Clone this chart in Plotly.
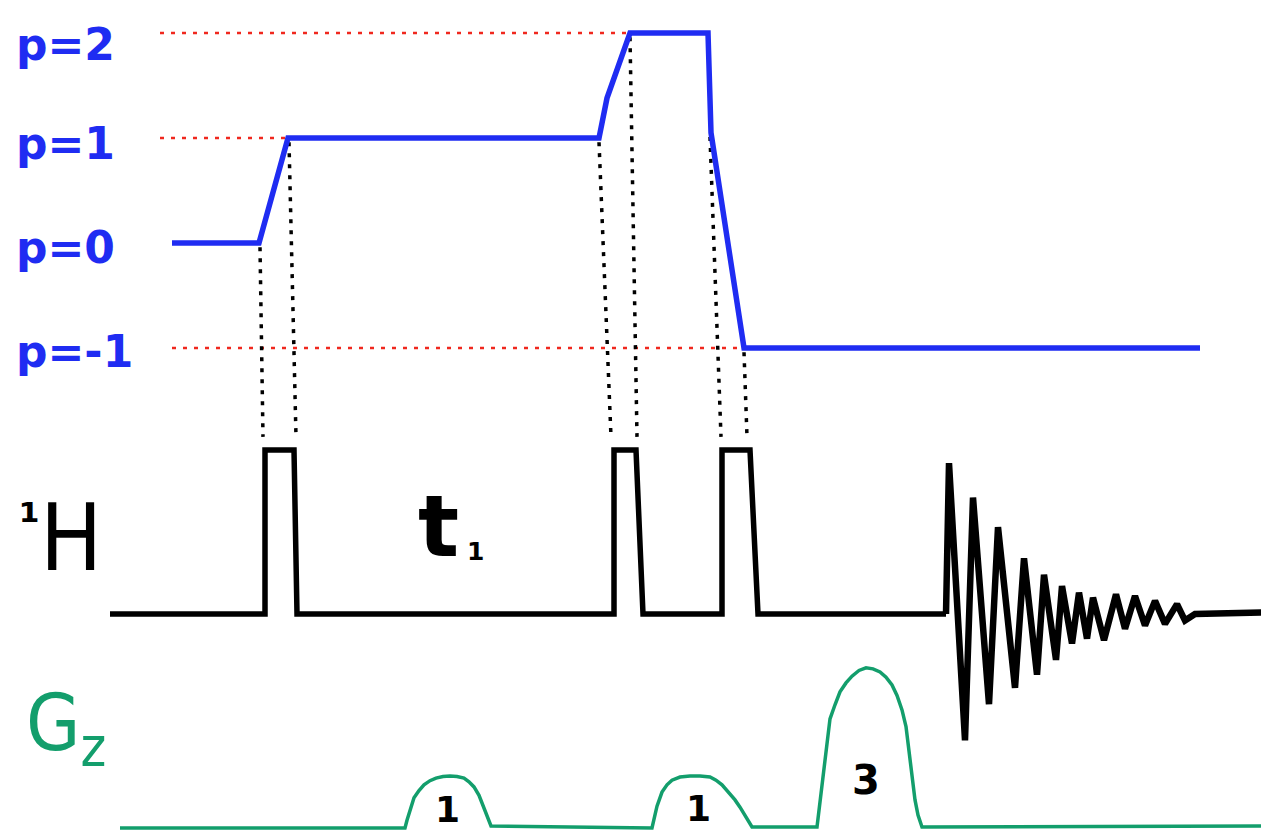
import plotly.graph_objects as go

# ---------------- data ----------------
# coherence transfer pathway (time, coherence order p)
coh_time = [172, 259, 288, 599, 607, 630, 708, 711, 744, 1200]
coh_p = [0, 0, 1, 1, 1.38, 2, 2, 1.05, -1, -1]

# coherence-level labels and red reference (dotted) levels
level_labels = ["p=2", "p=1", "p=0", "p=-1"]
level_values = [2, 1, 0, -1]
ref_levels = [2, 1, -1]
ref_start = [160, 160, 172]
ref_end = [628, 285, 742]

# dotted connectors: coherence change point -> pulse edge
conn_top_time = [260, 289, 599, 630, 710, 744]
conn_top_p = [0, 1, 1, 2, 1.05, -1]
conn_bot_time = [263, 296, 611, 637, 721, 747]

# 1H channel: three pulses (relative amplitude)
pulse_time = [110, 265, 265, 294, 297, 614, 614, 636, 643, 722, 722, 750, 758, 946]
pulse_amp = [0, 0, 1, 1, 0, 0, 1, 1, 0, 0, 1, 1, 0, 0]

# FID (relative amplitude)
fid_time = [946, 949, 965, 973, 989, 998, 1015, 1024, 1037, 1044, 1056, 1062, 1072,
            1079, 1087, 1093, 1104, 1116, 1125, 1135, 1145, 1155, 1165, 1177,
            1185, 1195, 1269]
fid_amp = [0, 0.92, -0.77, 0.71, -0.55, 0.53, -0.45, 0.34, -0.37, 0.24, -0.28, 0.17, -0.18,
           0.13, -0.15, 0.10, -0.16, 0.12, -0.09, 0.11, -0.07, 0.08, -0.06, 0.06,
           -0.04, 0, 0.01]

# Gz gradient channel (relative amplitude 1 : 1 : 3)
g_time = [120, 405, 407, 410, 414, 419, 424, 430, 436, 443, 450, 457, 464, 469, 474,
          479, 483, 487, 491,
          652, 654, 657, 662, 667, 672, 680, 690, 700, 710, 716, 722, 728, 735, 740,
          745, 749, 752,
          817, 819, 821, 824, 827, 830, 835, 840, 846, 852, 859, 866, 873, 880, 886,
          892, 897, 902, 906, 909, 912, 915, 918, 922, 1269]
g_amp = [0, 0, 0.15, 0.36, 0.58, 0.72, 0.83, 0.91, 0.96, 0.99, 1.0, 0.99, 0.96, 0.89, 0.79,
         0.63, 0.44, 0.24, 0.04,
         0, 0.2, 0.42, 0.69, 0.83, 0.92, 0.98, 1.0, 1.0, 0.98, 0.92, 0.83, 0.7, 0.54, 0.4,
         0.23, 0.1, 0.02,
         0.02, 0.35, 0.73, 1.2, 1.69, 2.1, 2.37, 2.62, 2.79, 2.92, 3.03, 3.08, 3.06, 3.0,
         2.9, 2.75, 2.55, 2.27, 1.95, 1.5, 1.1, 0.54, 0.25, 0.02, 0.04]

grad_labels = ["1", "1", "3"]
grad_label_time = [447, 698, 866]
grad_label_amp = [0.36, 0.38, 0.93]

# ---------------- layout constants (styles / positions) ----------------
W, H = 1269, 836
PAGE_OFF = 8            # default body margin of the html page
COH_ZERO_PX, COH_UNIT_PX = 243, 105
RF_ZERO_PX, RF_UNIT_PX = 614, 164
G_ZERO_PX, G_UNIT_PX = 828, 52
LABEL_SHIFT = [-0.11, -0.05, -0.04, -0.03]

BLUE = "#1f2cf2"
GREEN = "#139e6c"
RED = "#f0281e"
BLACK = "#000000"


def axis_range(zero_px, unit_px):
    return [-(H - zero_px) / unit_px, (zero_px - PAGE_OFF) / unit_px]


def rf_to_p(v):
    pix = RF_ZERO_PX - v * RF_UNIT_PX
    return (COH_ZERO_PX - pix) / COH_UNIT_PX


fig = go.Figure()

# red dotted reference levels
for lvl, x0, x1 in zip(ref_levels, ref_start, ref_end):
    fig.add_trace(go.Scatter(x=[x0, x1], y=[lvl, lvl], mode="lines", yaxis="y2",
                             line=dict(color=RED, width=2.5, dash="4px,7px"),
                             hoverinfo="skip"))

# black dotted connectors
for xt, pt, xb in zip(conn_top_time, conn_top_p, conn_bot_time):
    fig.add_trace(go.Scatter(x=[xt, xb], y=[pt - 0.04, rf_to_p(1.08)], mode="lines",
                             yaxis="y2",
                             line=dict(color=BLACK, width=3.5, dash="4px,7px"),
                             hoverinfo="skip"))

# coherence pathway
fig.add_trace(go.Scatter(x=coh_time, y=coh_p, mode="lines", yaxis="y2",
                         line=dict(color=BLUE, width=5.5)))

# RF channel
fig.add_trace(go.Scatter(x=pulse_time, y=pulse_amp, mode="lines", yaxis="y",
                         line=dict(color=BLACK, width=5.5)))
fig.add_trace(go.Scatter(x=fid_time, y=fid_amp, mode="lines", yaxis="y",
                         line=dict(color=BLACK, width=6.5)))

# gradient channel
fig.add_trace(go.Scatter(x=g_time, y=g_amp, mode="lines", yaxis="y3",
                         line=dict(color=GREEN, width=3.5)))

annotations = []
for lab, val, sh in zip(level_labels, level_values, LABEL_SHIFT):
    annotations.append(dict(x=14, y=val + sh, xref="x", yref="y2", text=lab,
                            showarrow=False, xanchor="left", yanchor="middle",
                            font=dict(family="DejaVu Sans", size=44, color=BLUE,
                                      weight="bold")))

for lab, xt, a in zip(grad_labels, grad_label_time, grad_label_amp):
    annotations.append(dict(x=xt, y=a, xref="x", yref="y3", text=lab, showarrow=False,
                            xanchor="center", yanchor="middle",
                            font=dict(family="DejaVu Sans", size=40 if lab == "3" else 36,
                                      color=BLACK, weight="bold")))

# 1H label (superscript mass number + H)
annotations.append(dict(x=29, y=0.57, xref="x", yref="y", text="¹", showarrow=False,
                        xanchor="center", yanchor="middle",
                        font=dict(family="DejaVu Sans", size=48, color=BLACK,
                                  weight="bold")))
annotations.append(dict(x=38, y=0.46, xref="x", yref="y", text="H", showarrow=False,
                        xanchor="left", yanchor="middle",
                        font=dict(family="Liberation Sans Narrow, DejaVu Sans Condensed, sans-serif",
                                  size=92, color=BLACK)))
# t1 label
annotations.append(dict(x=416, y=0.535, xref="x", yref="y", text="t", showarrow=False,
                        xanchor="left", yanchor="middle",
                        font=dict(family="DejaVu Sans", size=86, color=BLACK,
                                  weight="bold")))
annotations.append(dict(x=475, y=0.38, xref="x", yref="y", text="1", showarrow=False,
                        xanchor="center", yanchor="middle",
                        font=dict(family="DejaVu Sans", size=25, color=BLACK,
                                  weight="bold")))
# Gz label
annotations.append(dict(x=24, y=1.91, xref="x", yref="y3", text="G<sub>z</sub>",
                        showarrow=False, xanchor="left", yanchor="middle",
                        font=dict(family="DejaVu Sans Condensed, DejaVu Sans", size=78,
                                  color=GREEN)))

hidden = dict(visible=False, showgrid=False, zeroline=False, fixedrange=True)
fig.update_layout(
    width=W - PAGE_OFF, height=H - PAGE_OFF,
    margin=dict(l=0, r=0, t=0, b=0),
    paper_bgcolor="white", plot_bgcolor="white",
    showlegend=False,
    xaxis=dict(range=[PAGE_OFF, W], **hidden),
    yaxis=dict(range=axis_range(RF_ZERO_PX, RF_UNIT_PX), **hidden),
    yaxis2=dict(range=axis_range(COH_ZERO_PX, COH_UNIT_PX), overlaying="y", **hidden),
    yaxis3=dict(range=axis_range(G_ZERO_PX, G_UNIT_PX), overlaying="y", **hidden),
    annotations=annotations,
)

fig.write_html("out.html")
